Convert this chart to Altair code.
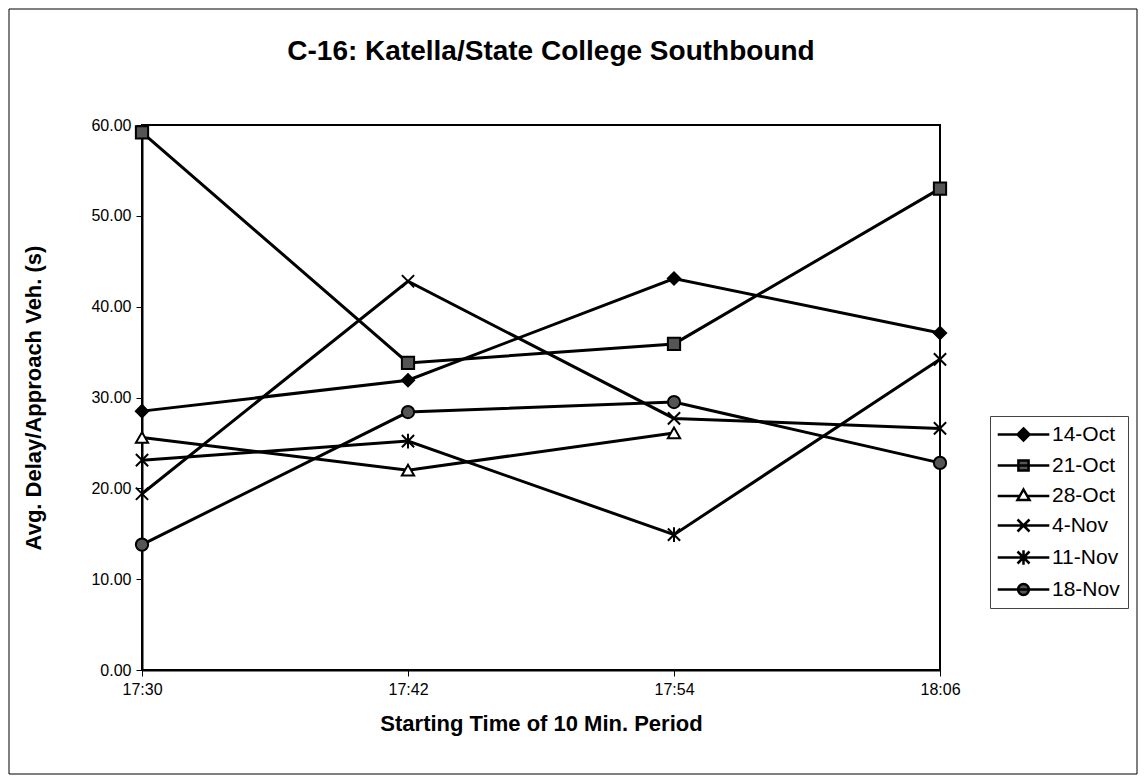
import altair as alt
import pandas as pd

times = ["17:30", "17:42", "17:54", "18:06"]
series_names = ["14-Oct", "21-Oct", "28-Oct", "4-Nov", "11-Nov", "18-Nov"]
oct14 = [28.5, 31.9, 43.1, 37.1]
oct21 = [59.2, 33.8, 35.9, 53.0]
oct28 = [25.6, 22.0, 26.1, None]
nov4 = [19.4, 42.8, 27.7, 26.6]
nov11 = [23.1, 25.2, 14.9, 34.2]
nov18 = [13.8, 28.4, 29.5, 22.8]
y_ticks = [0, 10, 20, 30, 40, 50, 60]
chart_title = ["C-16: Katella/State College Southbound"]

rows = []
for name, vals in zip(series_names, [oct14, oct21, oct28, nov4, nov11, nov18]):
    for t, v in zip(times, vals):
        if v is not None:
            rows.append({"time": t, "series": name, "delay": v})
df = pd.DataFrame(rows)

X_PATH = "M-1,-1L1,1M-1,1L1,-1"
AST_PATH = "M-1,-1L1,1M-1,1L1,-1M0,-1.2V1.2"
plain_shapes = ["diamond", "square", "triangle-up", X_PATH, AST_PATH, "circle"]
fills = ["black", "#555555", "white", "black", "black", "#555555"]
strokes = ["black"] * 6

L = 4.3
legend_shapes = [
    f"M-{L},0H{L}M0,-1L1,0L0,1L-1,0Z",
    f"M-{L},0H{L}M-0.85,-0.85H0.85V0.85H-0.85Z",
    f"M-{L},0.1H-0.55M0.55,0.1H{L}M0,-1L1,0.75H-1Z",
    f"M-{L},0H{L}M-1,-1L1,1M-1,1L1,-1",
    f"M-{L},0H{L}M-1,-1L1,1M-1,1L1,-1M0,-1.2V1.2",
    f"M-{L},0H{L}M0.9,0A0.9,0.9,0,1,1,-0.9,0A0.9,0.9,0,1,1,0.9,0Z",
]

FONT = "Liberation Sans"

x_enc = alt.X(
    "time:O",
    scale=alt.Scale(type="point", domain=times, padding=0),
    axis=alt.Axis(
        title="Starting Time of 10 Min. Period", labelAngle=0, labelFontSize=16,
        labelColor="black", tickColor="black", tickSize=6, domainColor="black",
        domainWidth=2, titleFontSize=22, titleFontWeight="bold", titleColor="black",
        labelPadding=5, titlePadding=16, grid=False, labelFont=FONT, titleFont=FONT,
    ),
)
y_enc = alt.Y(
    "delay:Q",
    scale=alt.Scale(domain=[0, 60], nice=False, zero=True),
    axis=alt.Axis(
        values=y_ticks, format=".2f", title="Avg. Delay/Approach Veh. (s)",
        labelFontSize=16, labelColor="black", tickColor="black", tickSize=6,
        domainColor="black", domainWidth=2, titleFontSize=22, titleFontWeight="bold",
        titleColor="black", labelPadding=5, titlePadding=45, grid=False,
        labelFont=FONT, titleFont=FONT,
    ),
)

base = alt.Chart(df)

frame = alt.Chart(pd.DataFrame({"a": [0]})).mark_rect(
    fillOpacity=0, stroke="black", strokeWidth=1
).encode(x=alt.value(-133), x2=alt.value(995), y=alt.value(-116), y2=alt.value(649))

title_layer = alt.Chart(pd.DataFrame({"t": chart_title})).mark_text(
    font=FONT, fontSize=28, fontWeight="bold", color="black", align="center", baseline="middle"
).encode(text="t:N", x=alt.value(409), y=alt.value(-73))

lines = base.mark_line(color="black", strokeWidth=3).encode(
    x=x_enc, y=y_enc, detail="series:N"
)

points = base.mark_point(filled=True, stroke="black", strokeWidth=2, size=150, opacity=1).encode(
    x=x_enc, y=y_enc,
    shape=alt.Shape("series:N", scale=alt.Scale(domain=series_names, range=plain_shapes), legend=None),
    fill=alt.Fill("series:N", scale=alt.Scale(domain=series_names, range=fills), legend=None),
)

legend_def = alt.Legend(
    orient="none", legendX=848, legendY=291, title=None, labelFontSize=21,
    labelColor="black", labelFont=FONT, symbolSize=144, symbolStrokeWidth=2.5,
    symbolStrokeColor="black", symbolOffset=15, labelOffset=18, rowPadding=8,
    padding=8, strokeColor="#444444", fillColor="white", symbolOpacity=1,
)

legend_layer = base.transform_filter("false").mark_point(
    filled=True, strokeWidth=2.5, size=144, opacity=1
).encode(
    x=x_enc, y=y_enc,
    shape=alt.Shape("series:N", scale=alt.Scale(domain=series_names, range=legend_shapes), legend=legend_def),
    fill=alt.Fill("series:N", scale=alt.Scale(domain=series_names, range=fills), legend=legend_def),
    stroke=alt.Stroke("series:N", scale=alt.Scale(domain=series_names, range=strokes), legend=legend_def),
)

chart = alt.layer(frame, title_layer, lines, points, legend_layer).resolve_scale(
    shape="independent", fill="independent", stroke="independent"
).properties(
    width=798, height=545,
    autosize=alt.AutoSizeParams(type="none"),
    padding={"left": 134, "top": 117, "right": 198, "bottom": 105},
).configure(font=FONT).configure_view(stroke="black", strokeWidth=2)

chart.save("out.html", embed_options={"renderer": "svg", "actions": False})
